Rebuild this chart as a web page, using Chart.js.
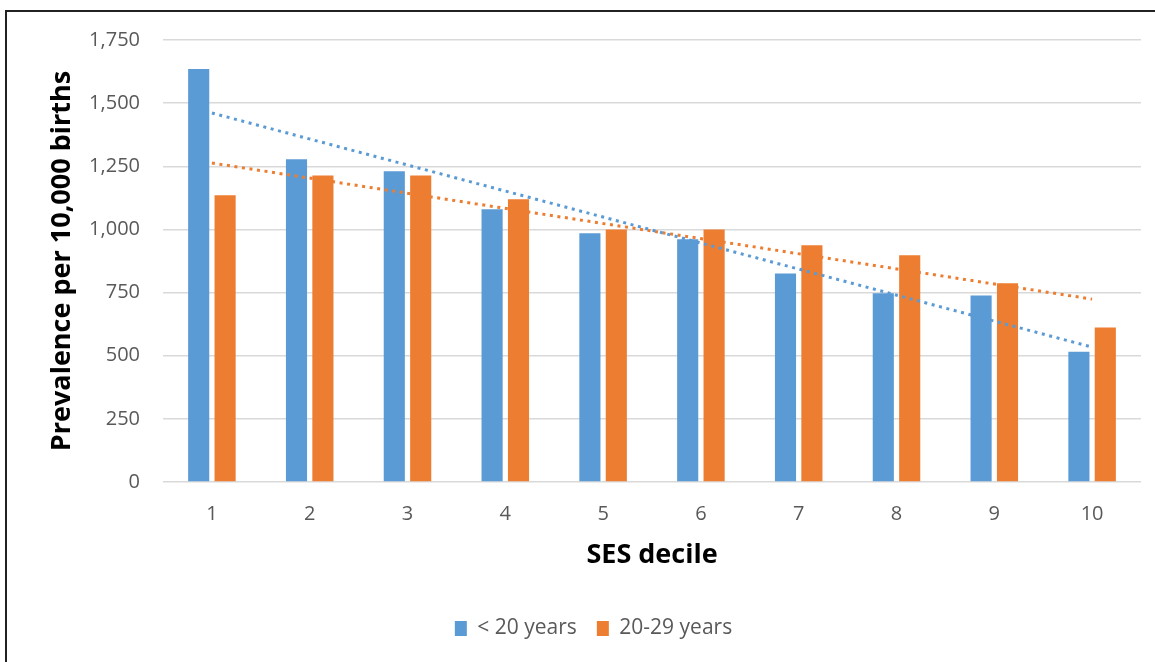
<!DOCTYPE html>
<html>
<head>
<meta charset="utf-8">
<script src="https://cdn.jsdelivr.net/npm/chart.js@4/dist/chart.umd.min.js"></script>
<style>
  html, body { margin: 0; padding: 0; background: #fff; }
  #wrap { position: relative; width: 1155px; height: 662px; overflow: hidden; }
  #frame { position: absolute; left: 5px; top: 10px; right: -5px; bottom: -5px;
           border-top: 2px solid #222; border-left: 2px solid #222; }
  canvas { position: absolute; left: 0; top: 0; }
</style>
</head>
<body>
<div id="wrap">
  <div id="frame"></div>
  <canvas id="myChart" width="1155" height="662"></canvas>
</div>
<script>
// values
var deciles = ['1', '2', '3', '4', '5', '6', '7', '8', '9', '10'];
var under20 = [1635, 1278, 1230, 1080, 985, 961, 826, 747, 738, 516];
var age20to29 = [1135, 1214, 1214, 1119, 1000, 1000, 937, 898, 787, 612];

// linear trend lines: only the two ends are drawn, from 1 to 10
var trendUnder20 = [1461, null, null, null, null, null, null, null, null, 534];
var trend20to29 = [1263, null, null, null, null, null, null, null, null, 724];

var yTicks = [0, 250, 500, 750, 1000, 1250, 1500, 1750];

var BLUE = '#5B9BD5';
var ORANGE = '#ED7D31';
var GREY = '#595959';
var FONT = '"Open Sans", "Noto Sans", sans-serif';

var data = {
    labels: deciles,
    datasets: [
        {
            type: 'bar',
            label: '< 20 years',
            data: under20,
            backgroundColor: BLUE,
            borderWidth: 0,
            order: 1
        },
        {
            type: 'bar',
            label: '20-29 years',
            data: age20to29,
            backgroundColor: ORANGE,
            borderWidth: 0,
            order: 1
        },
        {
            type: 'line',
            label: 'trend < 20',
            data: trendUnder20,
            borderColor: BLUE,
            borderWidth: 3,
            borderDash: [3, 4.6],
            pointRadius: 0,
            spanGaps: true,
            fill: false,
            order: 0
        },
        {
            type: 'line',
            label: 'trend 20-29',
            data: trend20to29,
            borderColor: ORANGE,
            borderWidth: 3,
            borderDash: [3, 4.6],
            pointRadius: 0,
            spanGaps: true,
            fill: false,
            order: 0
        }
    ]
};

var options = {
    responsive: false,
    animation: false,
    // left padding keeps the legend centred where the original has it
    layout: { padding: { top: 40, left: 46, right: 14, bottom: 13 } },
    datasets: {
        bar: { categoryPercentage: 0.54, barPercentage: 0.8 }
    },
    plugins: {
        tooltip: { enabled: false },
        legend: {
            position: 'bottom',
            labels: {
                font: { family: FONT, size: 21 },
                color: GREY,
                boxWidth: 12,
                boxHeight: 15,
                padding: 20,
                filter: function (item) { return item.datasetIndex < 2; }
            }
        }
    },
    scales: {
        x: {
            grid: { display: false },
            border: { display: false },
            ticks: { font: { family: FONT, size: 20 }, color: GREY, padding: 12 },
            title: {
                display: true,
                text: 'SES decile',
                font: { family: FONT, size: 27, weight: 'bold' },
                color: '#000',
                padding: { top: 0, bottom: 26 }
            },
            afterFit: function (scale) { scale.height = 116; }
        },
        y: {
            min: 0,
            max: 1750,
            afterBuildTicks: function (scale) {
                scale.ticks = yTicks.map(function (v) { return { value: v }; });
            },
            grid: { color: '#d9d9d9', lineWidth: 1.5, drawTicks: false },
            border: { display: false },
            ticks: {
                font: { family: FONT, size: 20 },
                color: GREY,
                padding: 23,
                callback: function (v) { return v.toLocaleString('en-US'); }
            },
            title: {
                display: true,
                text: 'Prevalence per 10,000 births',
                font: { family: FONT, size: 27, weight: 'bold' },
                color: '#000',
                padding: { top: 0, bottom: 0 }
            },
            afterFit: function (scale) { scale.width = 117; }
        }
    }
};

var ctx = document.getElementById('myChart').getContext('2d');
var myChart = new Chart(ctx, { type: 'bar', data: data, options: options });
</script>
</body>
</html>
